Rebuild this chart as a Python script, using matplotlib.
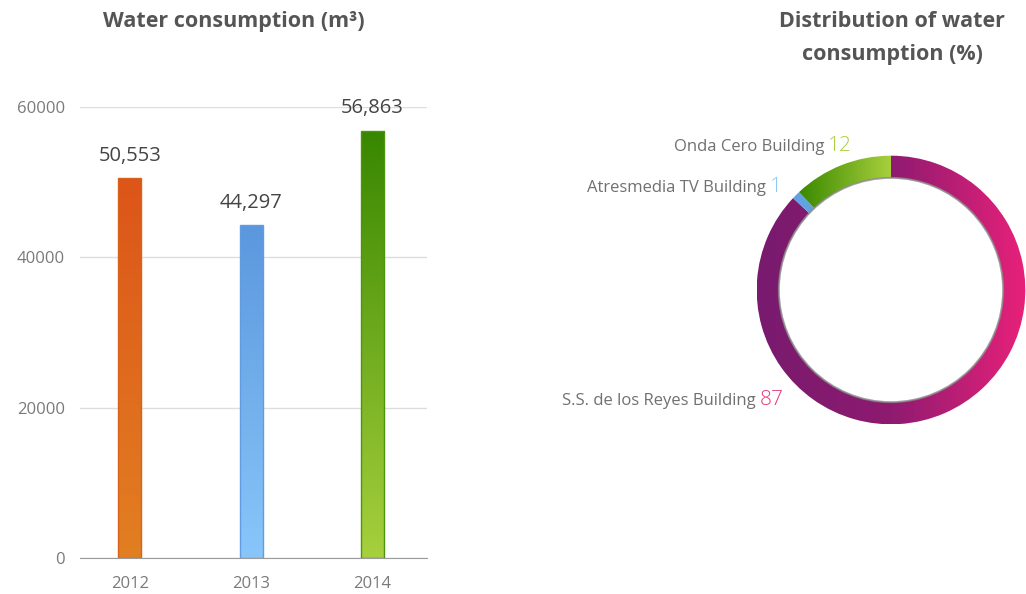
import matplotlib
matplotlib.use("Agg")
import matplotlib.pyplot as plt
import numpy as np
from matplotlib.colors import LinearSegmentedColormap
from matplotlib.patches import Circle

# yearly water use, m3
years = ["2012", "2013", "2014"]
consumption = [50553, 44297, 56863]
y_ticks = [0, 20000, 40000, 60000]
# (bottom colour, top colour) per bar
bar_grad = [("#e27f22", "#dc5519"), ("#88c6fa", "#5b97dd"), ("#a7d03d", "#388700")]
bar_edge = ["#d9621c", "#5f9de3", "#4f9410"]

# share of water use per building, %
buildings = ["S.S. de los Reyes Building", "Atresmedia TV Building", "Onda Cero Building"]
shares = [87, 1, 12]
# left -> right colour stops per ring segment
ring_grad = [["#781a6e", "#8e1b70", "#e8217a"], ["#63a2e2", "#63a2e2"], ["#3a8900", "#a8cf3c"]]
value_colors = ["#e23b80", "#8cc7f3", "#a9cf45"]

FONT = "Open Sans"
DARK = "#555555"

fig = plt.figure(figsize=(10.26, 5.94), dpi=100)


def grad_fill(ax, patch, stops, extent, vertical):
    cmap = LinearSegmentedColormap.from_list("g", stops)
    g = np.linspace(0, 1, 256)
    g = g.reshape(-1, 1) if vertical else g.reshape(1, -1)
    im = ax.imshow(g, cmap=cmap, extent=extent, origin="lower",
                   aspect="auto", interpolation="bilinear", zorder=patch.get_zorder())
    im.set_clip_path(patch)


# ---- bar chart
ax = fig.add_axes([80 / 1026, 1 - 558 / 594, 347 / 1026, 451 / 594])
x = np.arange(len(years))
bars = ax.bar(x, consumption, width=0.19, color="none", edgecolor="none", zorder=3)
for i, b in enumerate(bars):
    x0, w, h = b.get_x(), b.get_width(), b.get_height()
    grad_fill(ax, b, bar_grad[i], [x0, x0 + w, 0, h], True)
    ax.bar(x[i], consumption[i], width=0.19, color="none",
           edgecolor=bar_edge[i], linewidth=1.0, zorder=4)
    ax.annotate(f"{consumption[i]:,}", (x[i], h), xytext=(0, 16),
                textcoords="offset points", ha="center", va="center",
                fontsize=14.5, color="#444444", family=FONT, zorder=5)

ax.set_xlim(-0.41, 2.45)
ax.set_ylim(0, 60000)
ax.set_xticks(x, years)
ax.set_yticks(y_ticks)
ax.grid(axis="y", color="#dddddd", linewidth=1, zorder=0)
ax.set_axisbelow(True)
for s in ["top", "right", "left"]:
    ax.spines[s].set_visible(False)
ax.spines["bottom"].set_color("#9a9a9a")
ax.spines["bottom"].set_zorder(6)
ax.tick_params(length=0, labelsize=12, labelcolor="#7a7a7a")
ax.tick_params(axis="x", pad=13)
ax.tick_params(axis="y", pad=11)
for t in ax.get_xticklabels() + ax.get_yticklabels():
    t.set_family(FONT)

fig.text(234 / 1026, 1 - 22 / 594, "Water consumption (m³)", ha="center", va="center",
         fontsize=15.5, fontweight="bold", color=DARK, family=FONT)

# ---- donut chart
r_px = 137
dax = fig.add_axes([(891 - r_px) / 1026, 1 - (290 + r_px) / 594,
                    2 * r_px / 1026, 2 * r_px / 594])
wedges, _ = dax.pie(shares, startangle=90, counterclock=False, radius=1,
                    wedgeprops=dict(width=0.165, edgecolor="none"))
for i, w in enumerate(wedges):
    w.set_facecolor("none")
    ext = w.get_path().get_extents()
    xl, xr = ext.x0, ext.x1
    if i == 0:
        xl, xr = -1, 1
    grad_fill(dax, w, ring_grad[i], [xl, xr, -1, 1], False)
# soft shadow along the inner rim
dax.add_patch(Circle((0, 0), 0.835, fill=False, edgecolor="#8a8a8a",
                     linewidth=1.4, alpha=0.8, zorder=5))
dax.set_xlim(-1.02, 1.02)
dax.set_ylim(-1.02, 1.02)
dax.set_aspect("equal")
dax.axis("off")

# labels: name in grey, share in the segment colour
label_x = [760, 770, 828]
label_y = [405, 192, 151]
for i, name in enumerate(buildings):
    fy = 1 - label_y[i] / 594
    fig.text((label_x[i] - 4) / 1026, fy, name, ha="right", va="baseline",
             fontsize=12, color="#707070", family=FONT)
    fig.text(label_x[i] / 1026, fy, str(shares[i]), ha="left", va="baseline",
             fontsize=15, color=value_colors[i], family=FONT, fontweight="light")

fig.text(892 / 1026, 1 - 38 / 594, "Distribution of water\nconsumption (%)",
         ha="center", va="center", fontsize=15.5, fontweight="bold", color=DARK,
         family=FONT, linespacing=1.7)

fig.savefig("out.png", dpi=100)
